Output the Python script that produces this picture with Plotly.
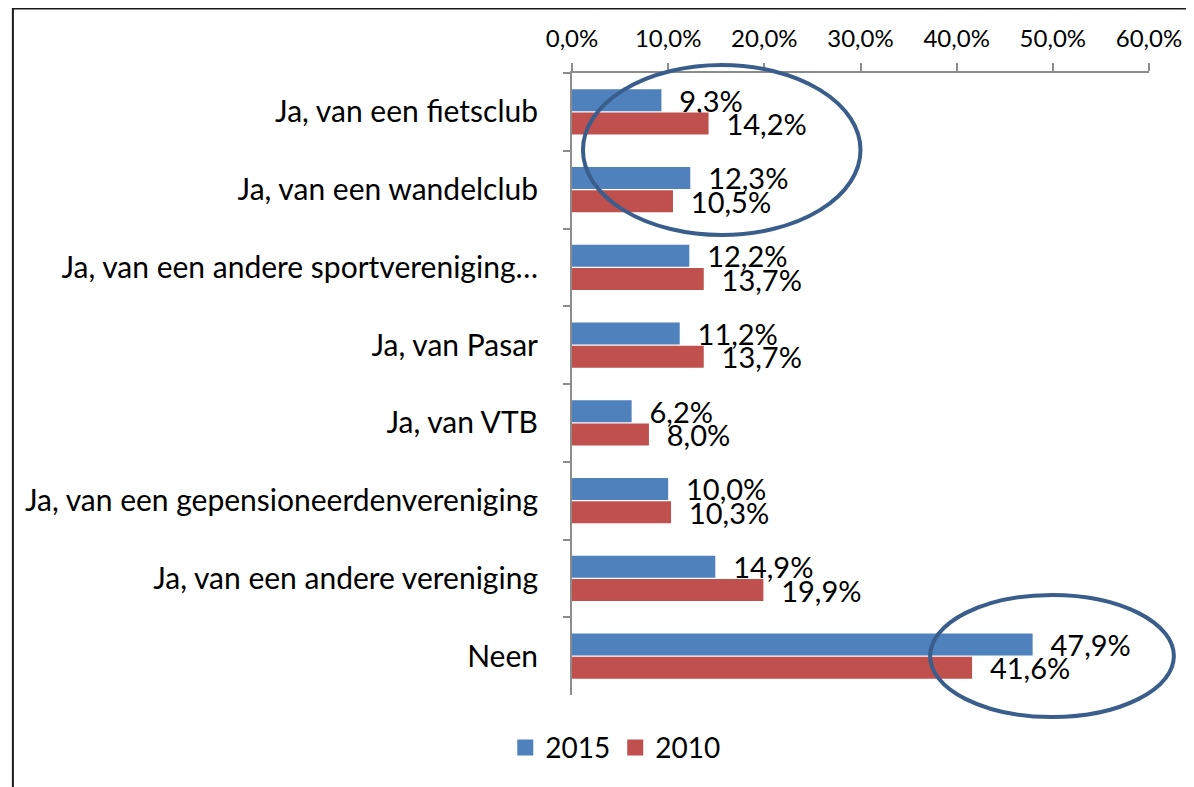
import plotly.graph_objects as go

categories = [
    "Ja, van een fietsclub",
    "Ja, van een wandelclub",
    "Ja, van een andere sportvereniging…",
    "Ja, van Pasar",
    "Ja, van VTB",
    "Ja, van een gepensioneerdenvereniging",
    "Ja, van een andere vereniging",
    "Neen",
]
values_2015 = [9.3, 12.3, 12.2, 11.2, 6.2, 10.0, 14.9, 47.9]
values_2010 = [14.2, 10.5, 13.7, 13.7, 8.0, 10.3, 19.9, 41.6]
series_names = ["2015", "2010"]
x_ticks = [0, 10, 20, 30, 40, 50, 60]
x_tick_labels = [f"{v:.1f}%".replace(".", ",") for v in x_ticks]

FONT = "Lato, 'Noto Sans', sans-serif"
BLUE = "#4F81BD"
RED = "#C0504D"
AXIS = "#8C8C8C"

fig = go.Figure()
for name, vals, col in [(series_names[0], values_2015, BLUE), (series_names[1], values_2010, RED)]:
    fig.add_trace(go.Bar(
        y=categories, x=vals, name=name, orientation="h",
        marker=dict(color=col, line=dict(width=0)),
        texttemplate="\u00a0\u00a0%{x:.1f}%", textposition="outside",
        textfont=dict(family=FONT, size=29, color="black"),
        constraintext="none", cliponaxis=False, showlegend=False,
    ))
# legend entries with larger square symbols
for name, col in [(series_names[0], BLUE), (series_names[1], RED)]:
    fig.add_trace(go.Scatter(
        x=[None], y=[None], mode="markers", name=name,
        marker=dict(symbol="square", size=18, color=col), showlegend=True,
    ))

fig.update_layout(
    width=1186, height=779,
    margin=dict(l=564, r=42, t=65, b=92),
    paper_bgcolor="white", plot_bgcolor="white",
    separators=",.",
    barmode="group", bargap=0.4, bargroupgap=0.06,
    font=dict(family=FONT, color="black"),
    showlegend=True,
    legend=dict(orientation="h", x=0.075, y=-0.085, xanchor="center", yanchor="middle",
                font=dict(family=FONT, size=28, color="black"), traceorder="normal",
                itemwidth=30, bgcolor="rgba(0,0,0,0)"),
    xaxis=dict(side="top", range=[0, 60], tickvals=x_ticks, ticktext=x_tick_labels,
               showgrid=False, zeroline=False, showline=True, linecolor=AXIS, linewidth=2,
               ticks="outside", ticklen=8, tickcolor=AXIS, tickwidth=2, ticklabelstandoff=6,
               tickfont=dict(family=FONT, size=24, color="black")),
    yaxis=dict(autorange="reversed", showgrid=False, showline=True, linecolor=AXIS, linewidth=2,
               ticks="outside", tickson="boundaries", ticklen=7, tickcolor=AXIS, tickwidth=2,
               ticklabelstandoff=26,
               tickfont=dict(family=FONT, size=30, color="black")),
    shapes=[
        dict(type="rect", xref="paper", yref="paper", x0=-0.969, x1=1.2, y0=-0.2, y1=1.1035,
             line=dict(color="#1a1a1a", width=2), fillcolor="rgba(0,0,0,0)", layer="below"),
        dict(type="circle", xref="paper", yref="paper", x0=0.019, x1=0.5, y0=0.7395, y1=1.0129,
             line=dict(color="#3A5E8C", width=4), fillcolor="rgba(0,0,0,0)"),
        dict(type="circle", xref="paper", yref="paper", x0=0.6207, x1=1.0431, y0=-0.0354, y1=0.1608,
             line=dict(color="#3A5E8C", width=4), fillcolor="rgba(0,0,0,0)"),
    ],
)

fig.write_html("out.html")
